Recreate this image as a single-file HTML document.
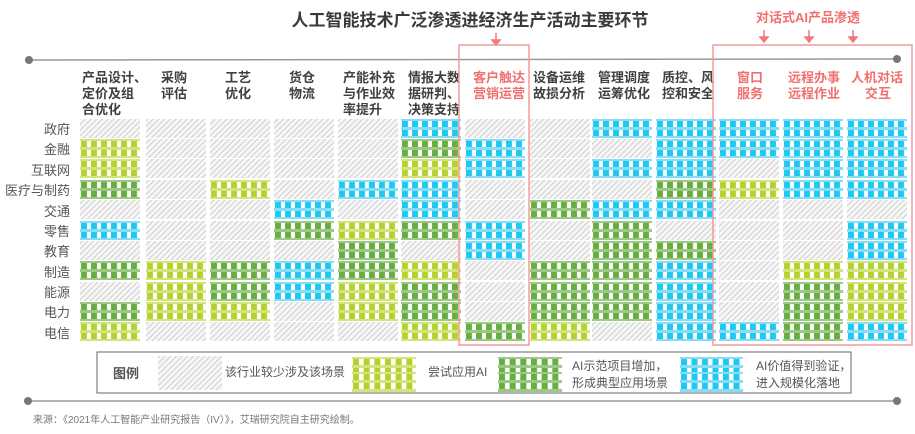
<!DOCTYPE html>
<html><head><meta charset="utf-8"><style>
body{margin:0;background:#fff;width:915px;height:429px;overflow:hidden;font-family:"Liberation Sans","Noto Sans CJK SC",sans-serif}
svg text{font-family:"Liberation Sans","Noto Sans CJK SC",sans-serif}
</style></head><body>
<svg id="s" width="915" height="429" viewBox="0 0 915 429" xmlns="http://www.w3.org/2000/svg">
<defs>
<pattern id="pg" patternUnits="userSpaceOnUse" width="4" height="4" patternTransform="rotate(-45)">
<rect width="4" height="4" fill="#f8f8f8"/><rect width="4" height="1.2" fill="#d2d2d2"/></pattern>
<pattern id="py" patternUnits="objectBoundingBox" width="0.1667" height="1"><rect width="11" height="20" fill="#fff"/><rect y="0" width="11" height="2" fill="#d2e47c"/><rect y="8" width="11" height="3" fill="#d2e47c"/><rect y="17" width="11" height="3" fill="#d2e47c"/><rect x="1" y="2" width="6" height="6" fill="#b4d12f"/><rect x="1" y="11" width="6" height="6" fill="#b4d12f"/></pattern>
<pattern id="pd" patternUnits="objectBoundingBox" width="0.1667" height="1"><rect width="11" height="20" fill="#fff"/><rect y="0" width="11" height="2" fill="#9cc986"/><rect y="8" width="11" height="3" fill="#9cc986"/><rect y="17" width="11" height="3" fill="#9cc986"/><rect x="1" y="2" width="6" height="6" fill="#67ad3f"/><rect x="1" y="11" width="6" height="6" fill="#67ad3f"/></pattern>
<pattern id="pb" patternUnits="objectBoundingBox" width="0.1667" height="1"><rect width="11" height="20" fill="#fff"/><rect y="0" width="11" height="2" fill="#86ddf5"/><rect y="8" width="11" height="3" fill="#86ddf5"/><rect y="17" width="11" height="3" fill="#86ddf5"/><rect x="1" y="2" width="6" height="6" fill="#1ec8f0"/><rect x="1" y="11" width="6" height="6" fill="#1ec8f0"/></pattern>
</defs>
<text x="470" y="26" text-anchor="middle" font-size="17" font-weight="bold" fill="#3a3a3a">人工智能技术广泛渗透进经济生产活动主要环节</text>
<text x="808" y="22" text-anchor="middle" font-size="13" font-weight="bold" fill="#f07070">对话式AI产品渗透</text>
<g stroke="#f07878" stroke-width="1.5" fill="#f07878">
<line x1="496" y1="33" x2="496" y2="41"/><path d="M492 40 L500 40 L496 45Z"/>
<line x1="764" y1="30" x2="764" y2="38"/><path d="M760 37 L768 37 L764 42Z"/>
<line x1="809" y1="30" x2="809" y2="38"/><path d="M805 37 L813 37 L809 42Z"/>
<line x1="853" y1="30" x2="853" y2="38"/><path d="M849 37 L857 37 L853 42Z"/>
</g>
<line x1="29" y1="60" x2="897" y2="59" stroke="#999" stroke-width="1.5"/>
<circle cx="29" cy="60" r="4" fill="#777"/><circle cx="897" cy="59" r="4" fill="#777"/>
<g font-size="13" font-weight="bold" fill="#404040">
<text x="82" y="82">产品设计、</text><text x="82" y="98">定价及组</text><text x="82" y="114">合优化</text>
<text x="161" y="82">采购</text><text x="161" y="98">评估</text>
<text x="225" y="82">工艺</text><text x="225" y="98">优化</text>
<text x="289" y="82">货仓</text><text x="289" y="98">物流</text>
<text x="343" y="82">产能补充</text><text x="343" y="98">与作业效</text><text x="343" y="114">率提升</text>
<text x="408" y="82">情报大数</text><text x="408" y="98">据研判、</text><text x="408" y="114">决策支持</text>
<text x="533" y="82">设备运维</text><text x="533" y="98">故损分析</text>
<text x="598" y="82">管理调度</text><text x="598" y="98">运筹优化</text>
<text x="662" y="82">质控、风</text><text x="662" y="98">控和安全</text>
</g>
<g font-size="13" font-weight="bold" fill="#f07070">
<text x="473" y="82">客户触达</text><text x="473" y="98">营销运营</text>
<text x="737" y="82">窗口</text><text x="737" y="98">服务</text>
<text x="788" y="82">远程办事</text><text x="788" y="98">远程作业</text>
<text x="851" y="82">人机对话</text><text x="878" y="98" text-anchor="middle">交互</text>
</g>
<g font-size="13" fill="#555" text-anchor="end">
<text x="70" y="134">政府</text><text x="70" y="154">金融</text><text x="70" y="175">互联网</text><text x="70" y="195">医疗与制药</text><text x="70" y="216">交通</text><text x="70" y="236">零售</text><text x="70" y="256">教育</text><text x="70" y="277">制造</text><text x="70" y="297">能源</text><text x="70" y="317">电力</text><text x="70" y="338">电信</text>
</g>
<g id="cells"></g>
<rect x="459" y="45" width="70" height="300" fill="none" stroke="#f29a9a" stroke-width="1.5"/>
<rect x="713" y="45" width="199" height="300" fill="none" stroke="#f29a9a" stroke-width="1.5"/>
<rect x="97" y="352" width="754" height="41" fill="#fff" stroke="#666" stroke-width="1"/>
<text x="113" y="378" font-size="13" font-weight="bold" fill="#555">图例</text>
<rect x="158" y="356" width="64" height="34" fill="url(#pg)"/>
<text x="225" y="376" font-size="12" fill="#555">该行业较少涉及该场景</text>
<rect x="352" y="357" width="64" height="20" fill="url(#py)"/><rect x="352" y="372" width="64" height="20" fill="url(#py)"/>
<text x="428" y="376" font-size="12" fill="#555">尝试应用AI</text>
<rect x="498" y="357" width="64" height="20" fill="url(#pd)"/><rect x="498" y="372" width="64" height="20" fill="url(#pd)"/>
<text x="572" y="370" font-size="12" fill="#555">AI示范项目增加，</text><text x="572" y="387" font-size="12" fill="#555">形成典型应用场景</text>
<rect x="680" y="357" width="63" height="20" fill="url(#pb)"/><rect x="680" y="372" width="63" height="20" fill="url(#pb)"/>
<text x="756" y="370" font-size="12" fill="#555">AI价值得到验证，</text><text x="756" y="387" font-size="12" fill="#555">进入规模化落地</text>
<line x1="28" y1="401" x2="897" y2="401" stroke="#999" stroke-width="1.5"/>
<circle cx="28" cy="401" r="4" fill="#777"/><circle cx="897" cy="401" r="4" fill="#777"/>
<text x="33" y="423" font-size="10" fill="#777">来源：《2021年人工智能产业研究报告（IV）》，艾瑞研究院自主研究绘制。</text>
</svg>
<script>
var cols=["gyydgbgdgdy","gggggggyyyg","gggygggddyg","ggggbdgbbgg","gggbgyddyyg","bdybbdgyddy","gbbggbbgggd","ggggdggdddy","bgbgbdddddg","bbbdbgdbbbb","bbgyggggggb","bbbbgggyddd","bbbbgbbyyyb"];
var xs=[80,146,210,274,338,401,465,530,592,656,719,783,847];
var ys=[119,139,159,180,200,221,241,261,282,302,322];
var g=document.getElementById('cells'),h='';
for(var c=0;c<13;c++)for(var r=0;r<11;r++){var t=cols[c][r];var id={g:'pg',y:'py',d:'pd',b:'pb'}[t];
h+='<rect x="'+xs[c]+'" y="'+ys[r]+'" width="60" height="19" fill="url(#'+id+')"/>';}
g.innerHTML=h;
</script>
</body></html>
